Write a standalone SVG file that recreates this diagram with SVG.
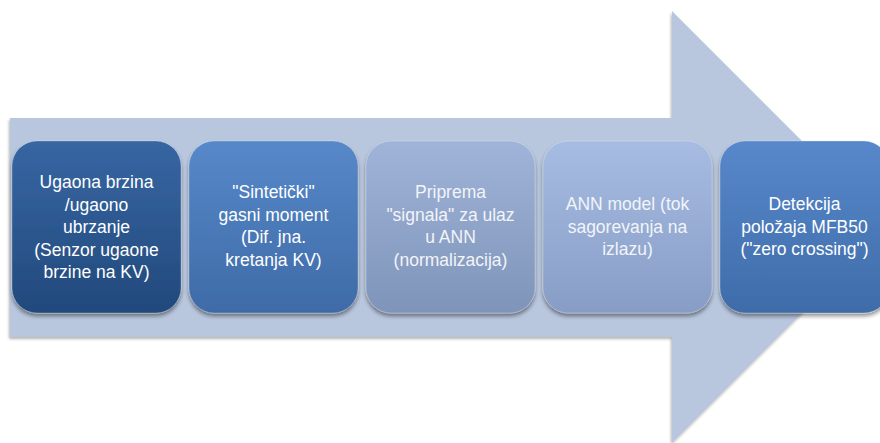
<svg xmlns="http://www.w3.org/2000/svg" width="880" height="443" viewBox="0 0 880 443">
<defs>
  <filter id="sh" x="-10%" y="-10%" width="125%" height="130%">
    <feGaussianBlur in="SourceAlpha" stdDeviation="2"/>
    <feOffset dx="0" dy="3" result="b"/>
    <feComponentTransfer><feFuncA type="linear" slope="0.45"/></feComponentTransfer>
    <feMerge><feMergeNode/><feMergeNode in="SourceGraphic"/></feMerge>
  </filter>
  <filter id="ash" x="-5%" y="-5%" width="110%" height="110%">
    <feGaussianBlur in="SourceAlpha" stdDeviation="1.5"/>
    <feOffset dx="-1" dy="2" result="b"/>
    <feComponentTransfer><feFuncA type="linear" slope="0.3"/></feComponentTransfer>
    <feMerge><feMergeNode/><feMergeNode in="SourceGraphic"/></feMerge>
  </filter>
  <linearGradient id="g1" x1="0" y1="0" x2="0" y2="1">
    <stop offset="0" stop-color="#3766a3"/><stop offset="1" stop-color="#22497c"/>
  </linearGradient>
  <linearGradient id="g2" x1="0" y1="0" x2="0" y2="1">
    <stop offset="0" stop-color="#5788c9"/><stop offset="1" stop-color="#3e6ba7"/>
  </linearGradient>
  <linearGradient id="g3" x1="0" y1="0" x2="0" y2="1">
    <stop offset="0" stop-color="#a0b4d9"/><stop offset="1" stop-color="#7f94b9"/>
  </linearGradient>
  <linearGradient id="g4" x1="0" y1="0" x2="0" y2="1">
    <stop offset="0" stop-color="#a6bce3"/><stop offset="1" stop-color="#879dc5"/>
  </linearGradient>
  <linearGradient id="g5" x1="0" y1="0" x2="0" y2="1">
    <stop offset="0" stop-color="#5888cb"/><stop offset="1" stop-color="#3e6ca9"/>
  </linearGradient>
</defs>
<style>
  .box { stroke: #ffffff; stroke-opacity: 0.25; stroke-width: 1; filter: url(#sh); }
  .t { font-family: "Liberation Sans", Arial, sans-serif; font-size: 17.5px; fill: #ffffff; text-anchor: middle; }
  .tl { fill: #f2f4f8; }
</style>
<rect width="880" height="443" fill="#ffffff"/>
<g id="arrow">
  <polygon points="10,118 672,118 672,11 888,227 672,443 672,337 10,337" fill="#b9c7de" filter="url(#ash)"/>
</g>
<g id="n1">
  <rect class="box" x="12" y="141" width="169" height="172" rx="25" fill="url(#g1)"/>
  <text class="t"><tspan x="96.5" y="188">Ugaona brzina</tspan><tspan x="96.5" y="210.5">/ugaono</tspan><tspan x="96.5" y="233">ubrzanje</tspan><tspan x="96.5" y="255.5">(Senzor ugaone</tspan><tspan x="96.5" y="278">brzine na KV)</tspan></text>
</g>
<g id="n2">
  <rect class="box" x="189" y="141" width="169" height="172" rx="25" fill="url(#g2)"/>
  <text class="t"><tspan x="273.5" y="198">"Sintetički"</tspan><tspan x="273.5" y="220.5">gasni moment</tspan><tspan x="273.5" y="243">(Dif. jna.</tspan><tspan x="273.5" y="265.5">kretanja KV)</tspan></text>
</g>
<g id="n3">
  <rect class="box" x="366" y="141" width="169" height="172" rx="25" fill="url(#g3)"/>
  <text class="t tl"><tspan x="450.5" y="198">Priprema</tspan><tspan x="450.5" y="220.5">"signala" za ulaz</tspan><tspan x="450.5" y="243">u ANN</tspan><tspan x="450.5" y="265.5">(normalizacija)</tspan></text>
</g>
<g id="n4">
  <rect class="box" x="543" y="141" width="169" height="172" rx="25" fill="url(#g4)"/>
  <text class="t tl"><tspan x="627.5" y="210">ANN model (tok</tspan><tspan x="627.5" y="232.5">sagorevanja na</tspan><tspan x="627.5" y="255">izlazu)</tspan></text>
</g>
<g id="n5">
  <rect class="box" x="720" y="141" width="169" height="172" rx="25" fill="url(#g5)"/>
  <text class="t"><tspan x="804.5" y="210">Detekcija</tspan><tspan x="804.5" y="232.5">položaja MFB50</tspan><tspan x="804.5" y="255">("zero crossing")</tspan></text>
</g>
<g id="connectors"></g>
</svg>
